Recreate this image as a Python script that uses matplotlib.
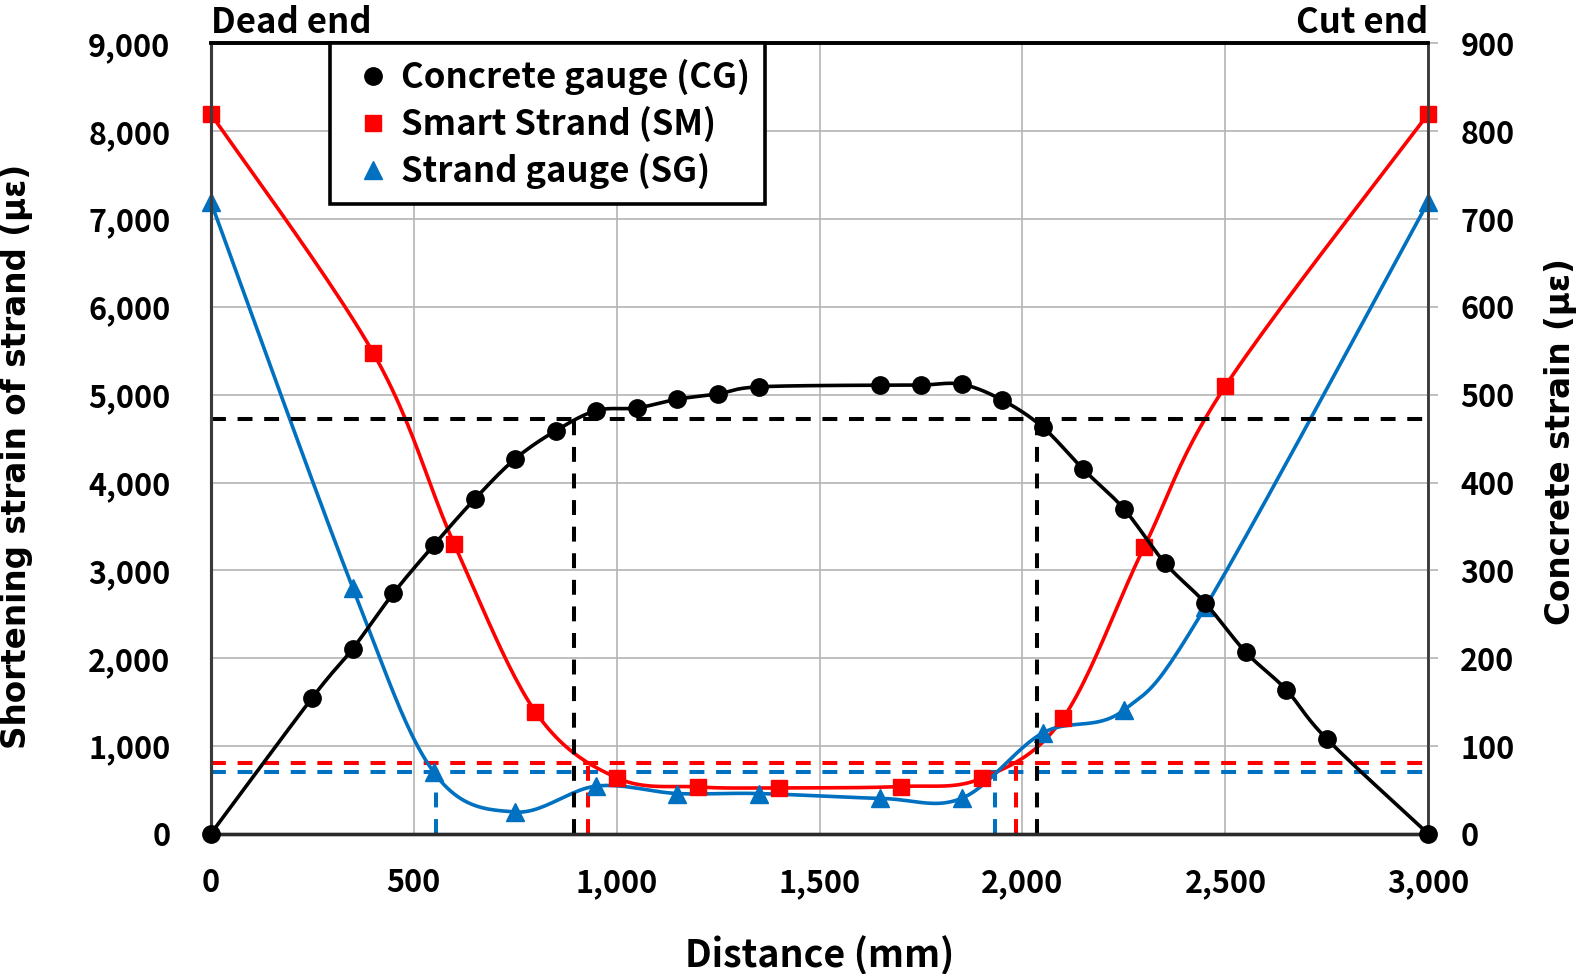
import numpy as np
import matplotlib
matplotlib.use('Agg')
import matplotlib.pyplot as plt
from matplotlib.lines import Line2D
from matplotlib.ticker import FuncFormatter, MultipleLocator

plt.rcParams['font.family'] = ['Noto Sans CJK KR', 'DejaVu Sans']
plt.rcParams['font.weight'] = 'bold'

# concrete gauge (right axis, με)
cg_x = [0, 250, 350, 450, 550, 650, 750, 850, 950, 1050, 1150, 1250, 1350,
        1650, 1750, 1850, 1950, 2050, 2150, 2250, 2350, 2450, 2550, 2650, 2750, 3000]
cg_y = [0, 155, 211, 274, 329, 381, 427, 459, 482, 485, 495, 501, 509,
        511, 511, 512, 494, 463, 415, 370, 309, 263, 207, 164, 108, 0]

# smart strand (left axis, με)
sm_x = [0, 400, 600, 800, 1000, 1200, 1400, 1700, 1900, 2100, 2300, 2500, 3000]
sm_y = [8200, 5480, 3300, 1390, 640, 535, 525, 540, 635, 1320, 3270, 5100, 8200]

# strand gauge (left axis, με)
sg_x = [0, 350, 550, 750, 950, 1150, 1350, 1650, 1850, 2050, 2250, 2450, 3000]
sg_y = [7200, 2800, 700, 250, 545, 460, 460, 405, 405, 1150, 1410, 2580, 7200]

# reference levels / transfer lengths
cg_level = 472
cg_cross = [895, 2035]
sm_level = 810
sm_cross = [929, 1984]
sg_level = 700
sg_cross = [556, 1932]


def smooth(x, y, n=24):
    # excel style smoothed line (uniform catmull-rom)
    pts = np.column_stack([x, y]).astype(float)
    p = np.vstack([pts[0], pts, pts[-1]])
    t = np.linspace(0, 1, n, endpoint=False)[:, None]
    out = []
    for i in range(1, len(p) - 2):
        p0, p1, p2, p3 = p[i - 1], p[i], p[i + 1], p[i + 2]
        seg = 0.5 * (2 * p1 + (-p0 + p2) * t + (2 * p0 - 5 * p1 + 4 * p2 - p3) * t ** 2
                     + (-p0 + 3 * p1 - 3 * p2 + p3) * t ** 3)
        out.append(seg)
    out.append(pts[-1:])
    s = np.vstack(out)
    return s[:, 0], s[:, 1]


RED = '#FF0000'
BLUE = '#0070C0'
FS = 22

fig = plt.figure(figsize=(15.94, 9.74), dpi=100)
ax = fig.add_axes([0.1322, 0.1438, 0.7639, 0.8116])
ax2 = ax.twinx()

ax.set_xlim(0, 3000)
ax.set_ylim(0, 9000)
ax2.set_ylim(0, 900)
ax.xaxis.set_major_locator(MultipleLocator(500))
ax.yaxis.set_major_locator(MultipleLocator(1000))
ax2.yaxis.set_major_locator(MultipleLocator(100))
fmt = FuncFormatter(lambda v, p: '{:,.0f}'.format(v))
ax.xaxis.set_major_formatter(fmt)
ax.yaxis.set_major_formatter(fmt)
ax2.yaxis.set_major_formatter(fmt)

ax.grid(True, color='#b4b4b4', lw=1.2)
ax.set_axisbelow(True)

# dashed reference lines
dash = dict(lw=2.9, dashes=(3.7, 2.9))
ax.plot([0, 3000], [sm_level, sm_level], color=RED, **dash)
ax.plot([0, 3000], [sg_level, sg_level], color=BLUE, **dash)
for xc in sm_cross:
    ax.plot([xc, xc], [0, sm_level], color=RED, **dash)
for xc in sg_cross:
    ax.plot([xc, xc], [0, sg_level], color=BLUE, **dash)
ax2.plot([0, 3000], [cg_level, cg_level], color='black', **dash)
for xc in cg_cross:
    ax2.plot([xc, xc], [0, cg_level], color='black', **dash)

# data series
sx, sy = smooth(sm_x, sm_y)
ax.plot(sx, sy, color=RED, lw=2.6, zorder=3)
ax.plot(sm_x, sm_y, 's', color=RED, ms=11, zorder=4, clip_on=False)
gx, gy = smooth(sg_x, sg_y)
ax.plot(gx, gy, color=BLUE, lw=2.6, zorder=3)
ax.plot(sg_x, sg_y, '^', color=BLUE, ms=13, zorder=4, clip_on=False)
cx, cy = smooth(cg_x, cg_y)
ax2.plot(cx, cy, color='black', lw=2.6, zorder=3)
ax2.plot(cg_x, cg_y, 'o', color='black', ms=12.5, zorder=4, clip_on=False)

# spines / ticks
for a in (ax, ax2):
    a.spines['top'].set_linewidth(2.6)
    a.spines['top'].set_color('black')
    a.spines['left'].set_linewidth(2.2)
    a.spines['left'].set_color('#3a3a3a')
    a.spines['bottom'].set_linewidth(2.4)
    a.spines['bottom'].set_color('#2a2a2a')
    a.spines['right'].set_linewidth(1.8)
    a.spines['right'].set_color('#3a3a3a')
ax.tick_params(axis='x', length=0, pad=24, labelsize=FS)
ax.tick_params(axis='y', length=0, pad=29, labelsize=FS)
ax2.tick_params(axis='y', length=7, width=1.2, color='#b4b4b4', pad=16, labelsize=FS)

ax.set_xlabel('Distance (mm)', fontsize=27, fontweight='bold', labelpad=26)
ax.set_ylabel('Shortening strain of strand (με)', fontsize=23.5, fontweight='bold',
              family='DejaVu Sans')
ax.yaxis.set_label_coords(-0.146, 0.478)
ax2.set_ylabel('Concrete strain (με)', fontsize=23.5, fontweight='bold',
               family='DejaVu Sans')
ax2.yaxis.set_label_coords(1.095, 0.496)

ax.text(0, 1.004, 'Dead end', transform=ax.transAxes, ha='left', va='bottom', fontsize=25, fontweight='bold')
ax.text(1, 1.004, 'Cut end', transform=ax.transAxes, ha='right', va='bottom', fontsize=25, fontweight='bold')

handles = [Line2D([], [], ls='none', marker='o', color='black', ms=12.5),
           Line2D([], [], ls='none', marker='s', color=RED, ms=11),
           Line2D([], [], ls='none', marker='^', color=BLUE, ms=13)]
labels = ['Concrete gauge (CG)', 'Smart Strand (SM)', 'Strand gauge (SG)']
leg = ax2.legend(handles, labels, loc='upper left', bbox_to_anchor=(0.098, 1.0),
                 fontsize=25, frameon=True, fancybox=False, framealpha=1,
                 edgecolor='black', handlelength=1.58, handletextpad=0.0,
                 labelspacing=0.31, borderpad=0.45, borderaxespad=0)
leg.get_frame().set_linewidth(2.6)
for t in leg.get_texts():
    t.set_fontweight('bold')

fig.savefig('out.png', dpi=100)
